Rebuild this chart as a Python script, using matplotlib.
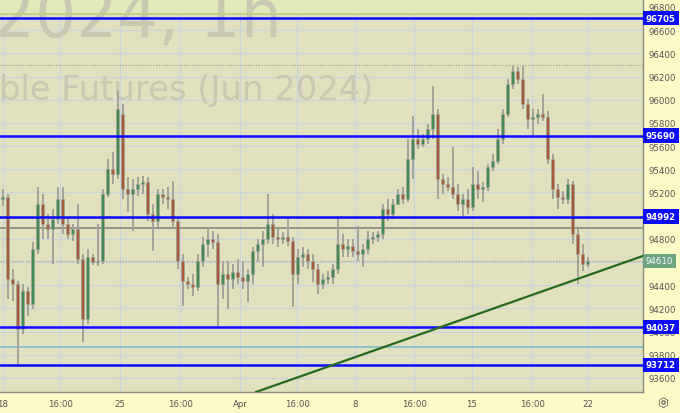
import matplotlib
matplotlib.use("Agg")
import matplotlib.pyplot as plt
import matplotlib.transforms as mtransforms

# ---------------- data ----------------
opens = [95143, 95161, 94453, 94410, 94022, 94350, 94237, 94712, 95100, 94928,
         94885, 94971, 95143, 94928, 94841, 94885, 94626, 94108, 94643, 94600,
         94608, 95187, 95402, 95359, 95877, 95230, 95187, 95230, 95273, 95290,
         95014, 94954, 95187, 95161, 95143, 94954, 94608, 94436, 94410, 94384,
         94608, 94755, 94798, 94772, 94410, 94496, 94453, 94513, 94470, 94436,
         94496, 94695, 94755, 94798, 94928, 94815, 94798, 94815, 94781, 94496,
         94643, 94669, 94608, 94539, 94410, 94453, 94470, 94539, 94755, 94712,
         94738, 94695, 94669, 94712, 94798, 94815, 94841, 95057, 95014, 95100,
         95187, 95143, 95488, 95661, 95618, 95661, 95747, 95877, 95316, 95273,
         95247, 95187, 95100, 95143, 95074, 95273, 95230, 95247, 95419, 95471,
         95661, 95877, 96136, 96248, 96179, 95963, 95834, 95851, 95877, 95851,
         95488, 95230, 95161, 95143, 95273, 94841, 94669, 94583]
highs = [95230, 95187, 94539, 94436, 94410, 94384, 94772, 95247, 95187, 95014,
         95057, 95247, 95247, 94988, 94928, 95100, 94669, 94712, 94669, 94928,
         95230, 95488, 95549, 96075, 95963, 95333, 95316, 95333, 95342, 95333,
         95100, 95230, 95230, 95247, 95299, 94988, 94669, 94470, 94496, 94669,
         94815, 94885, 94867, 94841, 94608, 94608, 94583, 94626, 94608, 94539,
         94729, 94798, 94867, 95187, 95014, 94885, 94859, 94971, 94815, 94712,
         94729, 94712, 94669, 94583, 94496, 94522, 94583, 94988, 94841, 94798,
         94798, 94910, 94755, 94867, 94859, 94867, 95100, 95143, 95143, 95230,
         95247, 95661, 95860, 95747, 95704, 95790, 96118, 95920, 95359, 95333,
         95592, 95273, 95187, 95230, 95419, 95385, 95290, 95445, 95532, 95747,
         95920, 96179, 96291, 96282, 96291, 96006, 95920, 95920, 96049, 95903,
         95532, 95273, 95212, 95316, 95299, 94885, 94755, 94643]
lows = [95083, 94281, 94263, 93711, 93979, 94134, 94194, 94669, 94798, 94798,
        94583, 94928, 94841, 94798, 94781, 94583, 93909, 94065, 94574, 94565,
        94583, 95161, 95273, 95316, 95143, 95031, 94867, 95169, 95187, 94954,
        94695, 94902, 95100, 95057, 94902, 94539, 94220, 94367, 94306, 94350,
        94557, 94643, 94712, 94048, 94281, 94194, 94367, 94410, 94367, 94255,
        94410, 94608, 94557, 94755, 94755, 94729, 94755, 94738, 94212, 94410,
        94557, 94539, 94427, 94324, 94367, 94410, 94410, 94496, 94643, 94643,
        94643, 94608, 94557, 94669, 94755, 94772, 94798, 94954, 94971, 95100,
        95100, 95117, 95316, 95575, 95592, 95618, 95661, 95143, 95187, 95212,
        95143, 95040, 94997, 95014, 95040, 95143, 95117, 95212, 95385, 95445,
        95618, 95851, 96092, 96136, 95920, 95747, 95687, 95790, 95816, 95445,
        95143, 95057, 95100, 95100, 94755, 94410, 94522, 94557]
closes = [95161, 94453, 94410, 94022, 94350, 94237, 94712, 95100, 94928, 94885,
          94971, 95143, 94928, 94841, 94885, 94626, 94108, 94643, 94600, 94608,
          95187, 95402, 95359, 95920, 95230, 95187, 95230, 95273, 95290, 95014,
          94954, 95187, 95161, 95143, 94954, 94608, 94436, 94410, 94384, 94608,
          94755, 94798, 94772, 94410, 94496, 94453, 94513, 94470, 94436, 94496,
          94695, 94755, 94798, 94928, 94815, 94798, 94815, 94781, 94496, 94643,
          94669, 94608, 94539, 94410, 94453, 94470, 94539, 94755, 94712, 94738,
          94695, 94669, 94712, 94798, 94815, 94841, 95057, 95014, 95100, 95187,
          95143, 95488, 95661, 95618, 95661, 95747, 95877, 95316, 95273, 95247,
          95187, 95100, 95143, 95074, 95273, 95230, 95247, 95419, 95471, 95661,
          95877, 96136, 96248, 96179, 95963, 95834, 95851, 95877, 95851, 95488,
          95230, 95161, 95143, 95273, 94841, 94669, 94583, 94610]

x_tick_labels = ["18", "16:00", "25", "16:00", "Apr", "16:00", "8", "16:00", "15", "16:00", "22"]
y_tick_values = list(range(93600, 96801, 200))
level_lines = [96705, 95690, 94992, 94037, 93712]
level_labels = ["96705", "95690", "94992", "94037", "93712"]
grey_level = 94895
teal_level = 93864
high_dotted = 96300
last_price = 94610
last_label = "94610"
trend_x = [50.7, 128.1]
trend_y = [93478, 94652]
top_band = [96739, 96900]

# ---------------- style ----------------
W, H, DPI = 680, 414, 100
fig = plt.figure(figsize=(W / DPI, H / DPI), dpi=DPI, facecolor="#fdfac8")
ax = fig.add_axes([0, 21 / H, 643 / W, 393 / H])
ax.set_facecolor("#e1e1c0")
ax.set_xlim(-0.5, 128.1)
ax.set_ylim(93478, 96869)

xtick_pos = [0.1, 11.5, 23.5, 35.5, 47.5, 58.9, 70.5, 82.3, 93.9, 105.9, 117.1]
grid_c = "#ccd4db"
for xp in xtick_pos:
    ax.axvline(xp, color=grid_c, lw=0.9, zorder=0)
for yv in y_tick_values:
    ax.axhline(yv, color=grid_c, lw=0.9, zorder=0)

# top band
ax.axhspan(top_band[0], top_band[1], color="#e2e9bb", zorder=0.5, lw=0)
ax.axhline(top_band[0], color="#b9d07a", lw=1.2, zorder=1)

# watermark
ax.text(-1.6, 96869 - 37 * 8.628, "2024, 1h", fontsize=46.5, color="#c8c8b3",
        ha="left", va="baseline", zorder=0.8, family="DejaVu Sans", clip_on=True)
ax.text(-0.7, 96869 - 100 * 8.628, "ble Futures (Jun 2024)", fontsize=24.3,
        color="#c8c8b3", ha="left", va="baseline", zorder=0.8,
        family="DejaVu Sans", clip_on=True)

# auxiliary lines
ax.axhline(high_dotted, color="#9a9a90", lw=0.8, ls=(0, (1, 1.5)), zorder=1)
ax.axhline(last_price, color="#9a9a90", lw=0.8, ls=(0, (1, 1.5)), zorder=1)
ax.axhline(grey_level, color="#8e8e84", lw=1.3, zorder=1.5)
ax.axhline(teal_level, color="#86c3cf", lw=1.3, zorder=1.5)

# candles
up_c, dn_c, wick_c = "#3f8a55", "#a65a3c", "#a3a399"
for i in range(len(closes)):
    o, h, l, c = opens[i], highs[i], lows[i], closes[i]
    ax.vlines(i, l, h, color=wick_c, lw=1.4, zorder=2)
    lo, hi = min(o, c), max(o, c)
    if hi - lo < 8:
        hi = lo + 8
    col = up_c if c >= o else dn_c
    ax.bar(i, hi - lo, bottom=lo, width=0.62, color=col, edgecolor=wick_c,
           linewidth=0.5, zorder=3)

# level lines
for lv in level_lines:
    ax.axhline(lv, color="#0a0aff", lw=1.8, zorder=4)

# trend line
ax.plot(trend_x, trend_y, color="#256b1f", lw=1.6, zorder=4, clip_on=True)

# axes styling
for s in ["top", "left"]:
    ax.spines[s].set_visible(False)
ax.spines["right"].set_color("#8a8a80")
ax.spines["bottom"].set_color("#8a8a80")
ax.spines["right"].set_linewidth(1.0)
ax.spines["bottom"].set_linewidth(1.0)

ax.yaxis.tick_right()
ax.set_yticks(y_tick_values)
ax.set_yticklabels([str(v) for v in y_tick_values])
ax.tick_params(axis="y", length=0, pad=4, labelsize=6.2, labelcolor="#555555")
ax.set_xticks(xtick_pos)
ax.set_xticklabels(x_tick_labels)
ax.tick_params(axis="x", length=0, pad=5, labelsize=6.2, labelcolor="#555555")

# price labels on the right axis
trans = mtransforms.blended_transform_factory(ax.transAxes, ax.transData)
for lv, lab in zip(level_lines, level_labels):
    ax.text(1.0 + 3 / 643, lv, lab, transform=trans, fontsize=6.2, color="white",
            fontweight="bold", ha="left", va="center", zorder=10, clip_on=False,
            bbox=dict(boxstyle="square,pad=0.32", fc="#0a0aff", ec="none"))
ax.text(1.0 + 3 / 643, last_price, last_label, transform=trans, fontsize=6.2,
        color="white", ha="left", va="center", zorder=10, clip_on=False,
        bbox=dict(boxstyle="square,pad=0.32", fc="#6ea384", ec="none"))

# settings gear
fig.text(663 / W, 1 - 403 / H, "\u2B21", fontsize=9, color="#555555",
         ha="center", va="center")
fig.lines.append(plt.Line2D([663 / W], [1 - 403 / H], marker="o", ms=2.5,
                            mfc="none", mec="#555555", mew=0.8,
                            transform=fig.transFigure))

fig.savefig("out.png", dpi=DPI, facecolor=fig.get_facecolor())
